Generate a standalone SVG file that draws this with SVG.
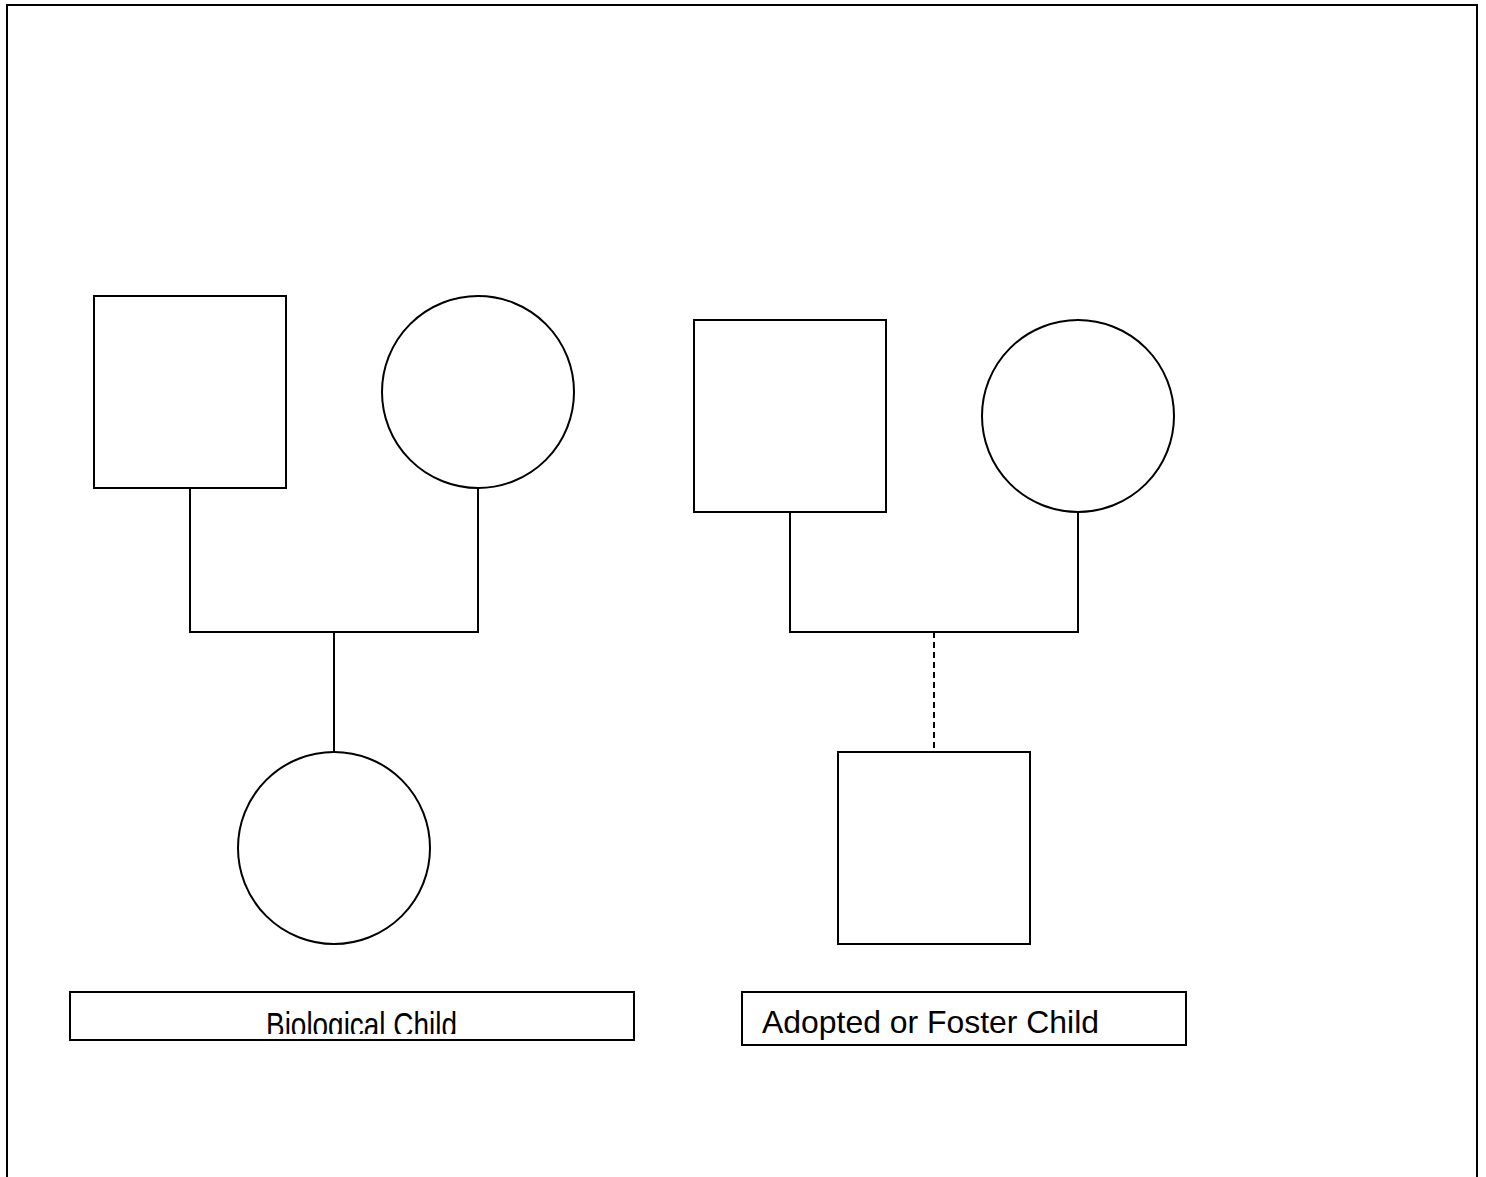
<svg xmlns="http://www.w3.org/2000/svg" width="1486" height="1177" viewBox="0 0 1486 1177">
  <style>
    .shape { fill: #fff; stroke: #000; stroke-width: 2; }
    .link { fill: none; stroke: #000; stroke-width: 2; }
    .dashed { stroke-dasharray: 6 4; }
    .label { fill: #fff; stroke: #000; stroke-width: 2; }
    .txt { font-family: "Liberation Sans", Arial, sans-serif; fill: #000; }
  </style>
  <defs>
    <clipPath id="bioClip"><rect x="70" y="992" width="564" height="42"/></clipPath>
  </defs>
  <rect width="1486" height="1177" fill="#fff"/>
  <!-- page frame, open at the bottom -->
  <path d="M7 1177 V5 H1477 V1177" fill="none" stroke="#000" stroke-width="2"/>

  <!-- connectors -->
  <g id="connectors">
    <path class="link" d="M190 488 V632 H478 V488"/>
    <path class="link" d="M334 632 V752"/>
    <path class="link" d="M790 512 V632 H1078 V512"/>
    <path class="link dashed" d="M934 632 V752"/>
  </g>

  <!-- biological family -->
  <g id="father1"><rect class="shape" x="94" y="296" width="192" height="192"/></g>
  <g id="mother1"><circle class="shape" cx="478" cy="392" r="96"/></g>
  <g id="child1"><circle class="shape" cx="334" cy="848" r="96"/></g>

  <!-- adoptive family -->
  <g id="father2"><rect class="shape" x="694" y="320" width="192" height="192"/></g>
  <g id="mother2"><circle class="shape" cx="1078" cy="416" r="96"/></g>
  <g id="child2"><rect class="shape" x="838" y="752" width="192" height="192"/></g>

  <!-- captions -->
  <g id="label1">
    <rect class="label" x="70" y="992" width="564" height="48"/>
    <text class="txt" x="266" y="1037" font-size="35" textLength="191" lengthAdjust="spacingAndGlyphs" clip-path="url(#bioClip)">Biological Child</text>
  </g>
  <g id="label2">
    <rect class="label" x="742" y="992" width="444" height="53"/>
    <text class="txt" x="762" y="1033" font-size="32" textLength="337" lengthAdjust="spacingAndGlyphs">Adopted or Foster Child</text>
  </g>
</svg>
